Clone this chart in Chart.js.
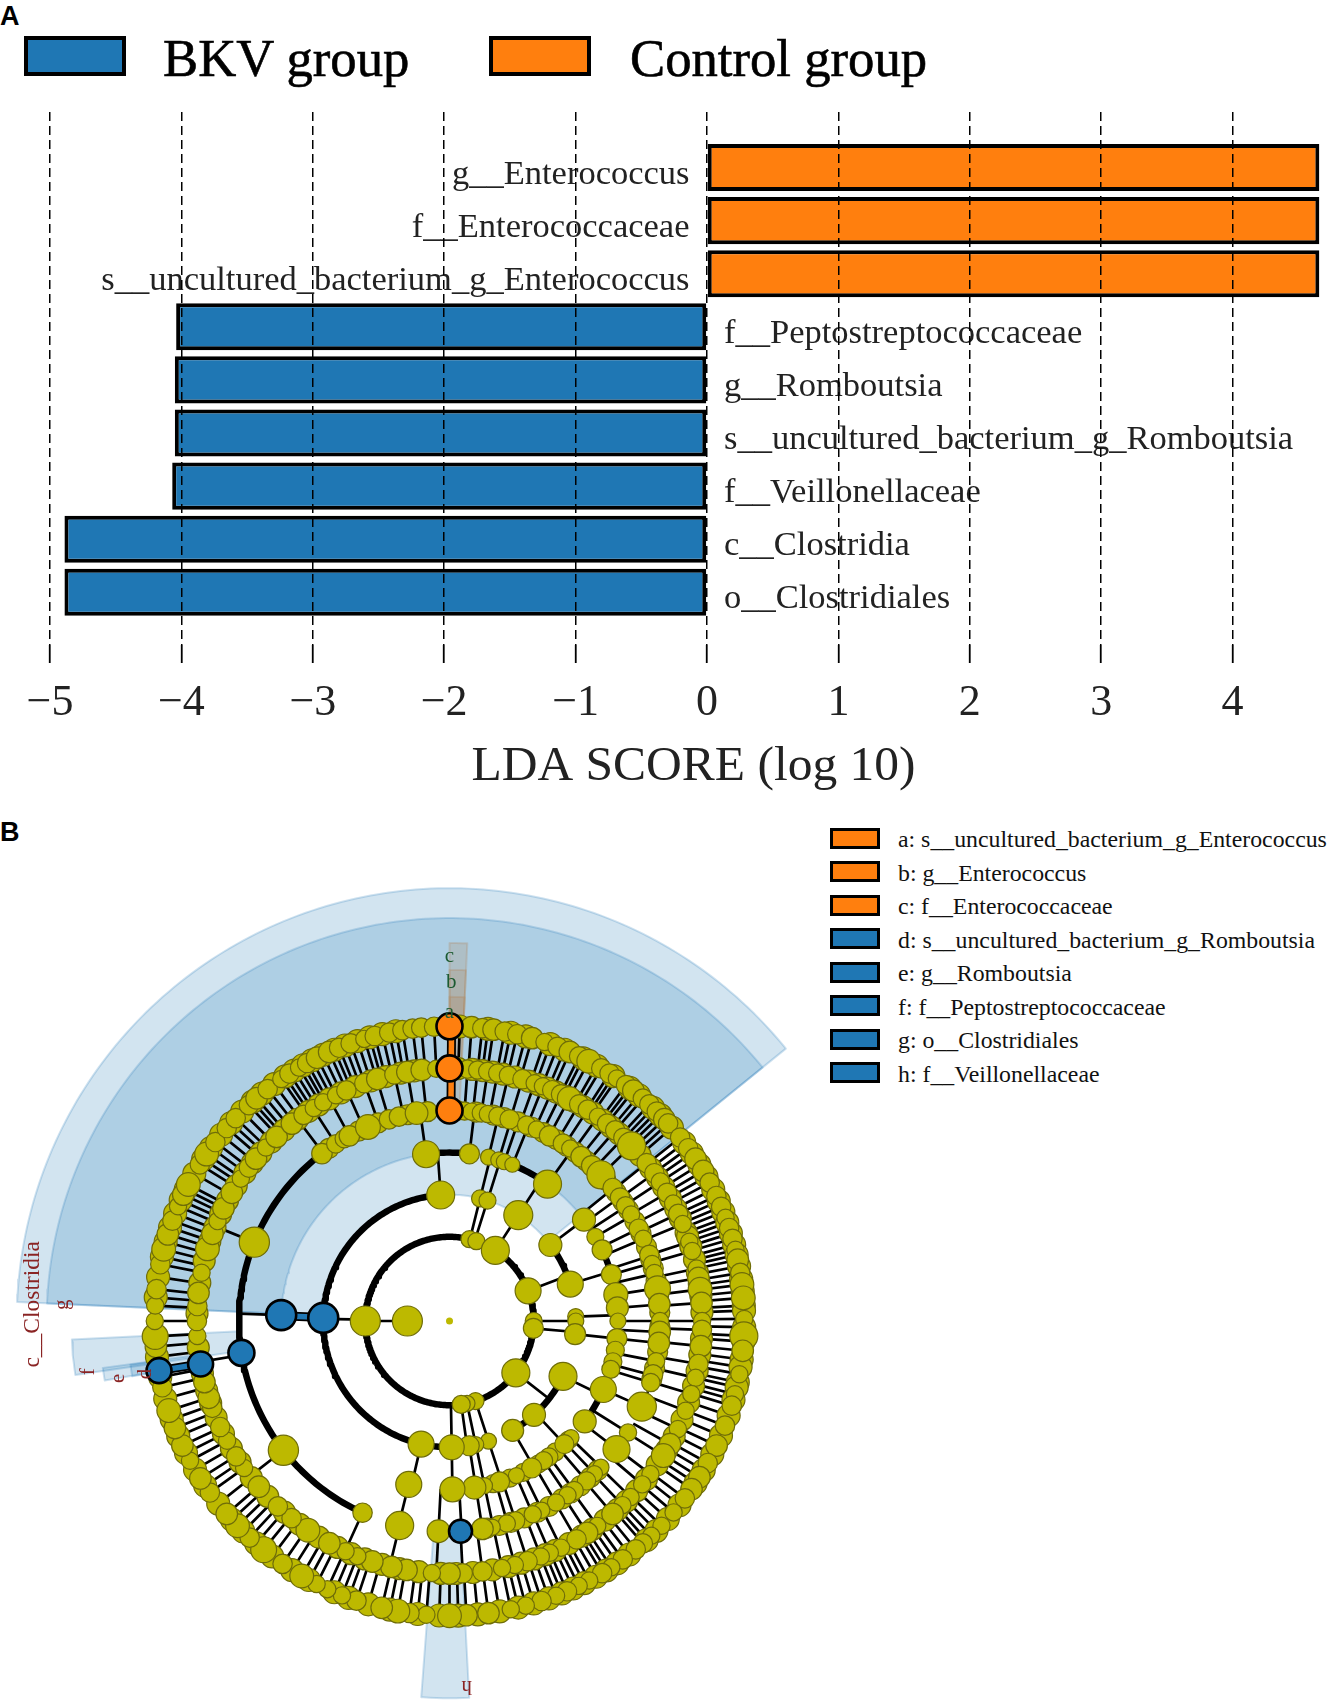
<!DOCTYPE html>
<html><head><meta charset="utf-8">
<script src="https://cdn.jsdelivr.net/npm/chart.js@4"></script>
<style>
html,body{margin:0;padding:0;background:#fff;width:1328px;height:1700px;overflow:hidden;position:relative}
.c{position:absolute;left:0}
.t{position:absolute;font-family:"Liberation Serif",serif;color:#111;white-space:pre;line-height:1}
.p{position:absolute;font:bold 27px "Liberation Sans",sans-serif;color:#000;line-height:1}
.s{position:absolute;box-sizing:border-box;border:solid #000}
</style></head><body>
<div class="p" style="left:0;top:3px">A</div>
<div class="p" style="left:0;top:819px">B</div>
<div id="legendA"></div><div id="legendB"></div>
<div class="c" style="top:0;width:1328px;height:800px;overflow:hidden"><canvas id="a"></canvas></div>
<div class="c" style="top:800px;width:1328px;height:900px"><canvas id="b"></canvas></div>
<script>
// ---------- Panel A data ----------
const categories=["g__Enterococcus","f__Enterococcaceae","s__uncultured_bacterium_g_Enterococcus","f__Peptostreptococcaceae","g__Romboutsia","s__uncultured_bacterium_g_Romboutsia","f__Veillonellaceae","c__Clostridia","o__Clostridiales"];
const ldaScores=[4.66,4.66,4.66,-4.04,-4.05,-4.05,-4.07,-4.89,-4.89];
const tickValues=[-5,-4,-3,-2,-1,0,1,2,3,4];
const groupNames=["BKV group","Control group"];
const BLUE="#1f77b4",ORANGE="#ff7f0e",YEL="#bdb900",YELE="#6f6d08";
// ---------- Panel B legend ----------
const cladeLegend=[["a: s__uncultured_bacterium_g_Enterococcus",1],["b: g__Enterococcus",1],["c: f__Enterococcaceae",1],["d: s__uncultured_bacterium_g_Romboutsia",0],["e: g__Romboutsia",0],["f: f__Peptostreptococcaceae",0],["g: o__Clostridiales",0],["h: f__Veillonellaceae",0]];
// ---------- Panel B data: [angle in degrees clockwise from top, node size] per ring ----------
const ring1=[[-90,15]];
const ring2=[[-90,15],[13.7,8.5],[18.6,8.5],[33,14],[69,13],[90,8.5],[95,10],[128,14],[162,8.5],[168,8],[172,9]];
const ring3=[[-4,14],[14,8.5],[17.5,8.5],[33,14.5],[53,11.5],[73,13],[88,8],[90,8],[96,10.5],[116,14],[138,11.5],[150,11],[162,8],[168,8],[171,10],[179,12.5],[-167,13]];
const ring4=[[-8,13.5],[6.8,10],[13.4,8],[17,8],[19,8],[21.9,7.5],[35.6,14],[53,11.5],[60,8.5],[65,10],[74,10],[81,12],[85.5,11],[90,8],[96,10],[100,9],[104,9],[106.7,9],[114,13],[126.6,11.5],[133.8,8],[137,9.5],[143.8,9],[146,9],[150.8,10],[156.6,8],[162.7,10],[168,8],[171.5,11.5],[179,12.5],[-166,13]];
const ring5=[[4.1,8.5],[6,8],[8.7,8.5],[10.5,8],[13.3,8.5],[16.6,9],[21.5,8.5],[24.5,8],[28.4,9.5],[32.6,9],[35,8],[38.7,9.5],[42.5,9.5],[46,13],[50.8,9],[54.1,9],[56.8,8.5],[59.6,8],[64,9],[67,8],[71.7,9],[74.3,8],[76.8,8],[81.2,12],[85.4,10],[90,8],[93,10],[96,10],[101,8],[104.7,9],[107,8.5],[114,13.5],[122,8],[127.5,12.5],[134,7.5],[136.5,7.5],[139.4,8.5],[143.7,8.5],[145.9,8],[149.6,8],[154,7.5],[156.7,8],[161.7,8.5],[164.2,8],[168.3,7.5],[171,10],[-177,10.5],[-166.3,13],[-155.6,9],[-127.9,14],[-68,14],[-37.3,9.5],[-32.7,8.5],[-30,8.5],[-28.4,9.5],[-22.8,11.5],[-16.7,9],[-13.9,9],[-9,10.5]];
const ring6=[[4.1,8.5],[6.4,8.5],[8.7,8.5],[11,8.5],[13.5,8.5],[16.8,9],[19.7,8],[21.7,8],[24,9],[26.2,9],[28.3,11],[30.9,9],[33.2,9],[36,8],[38.6,9],[41,9],[43.5,9],[46.1,13],[51.3,9],[54.2,9],[56.6,8.5],[59.5,9],[62.3,8],[64.9,9],[67.4,8],[71.7,8],[73.9,8],[78,8],[80.2,10],[82.8,11],[85.9,10],[90,8],[92,9],[95.7,10],[99.8,9],[103,8],[106.8,8],[110.8,8],[115.3,8],[119.2,10],[122.2,11],[127.3,8],[130.3,8],[134.2,8],[136.8,8],[139.8,10],[144.2,8],[147,10],[149.8,9],[153.8,8],[156.6,8],[158.8,8],[162,9],[165,8],[168,8],[172.5,9],[177,9],[180,10],[-176,8],[-170.2,10],[-166.7,10],[-162.2,10],[-158.6,8],[-155.7,8],[-151.6,10],[-145.9,11],[-141.3,9],[-137.2,9],[-131,10],[-125.6,8],[-122.4,9],[-118.3,8],[-114.8,9],[-110.1,9],[-107.7,10],[-104,10],[-93.4,8],[-90,9],[-86.6,9],[-83.6,10],[-79,8],[-73.4,11],[-69.8,10],[-66.7,8],[-63.5,10],[-59.5,10],[-55.7,8],[-52.6,9],[-50,10],[-46.6,8],[-43.2,10],[-38.6,10],[-35.3,9],[-32.5,8],[-30,8],[-26.7,8],[-24.1,9],[-19.7,9],[-16.6,10],[-12.6,9],[-9.6,10],[-6.3,10],[-3,8]];
const ring7=[[4.3,10],[6.4,9],[8.6,10],[10.8,9],[13.3,9],[16.3,10],[18.8,8],[21.5,9],[24.1,10],[26.1,9],[28.2,11],[31,9],[32.9,9],[34.6,8],[36.8,9],[38.6,10],[41,9],[42.7,9],[44.7,9],[46.8,10],[47.9,9],[51.5,9],[54.1,9],[56.6,10],[59.4,10],[62,9],[64.9,9],[67.2,9],[69.5,8],[71.6,9],[73.8,9],[76,8],[78,10],[80.6,9],[82.9,11],[85.5,11],[89.6,8],[92.9,13],[95.8,10],[100.4,8],[104.4,8],[106.7,9],[110.8,9],[115,10],[118.8,9],[122,10],[124.8,10],[127,9],[130.5,8],[134,8],[136.8,8],[139,9],[140.8,9],[144,9],[146.7,8],[148.8,9],[151.7,8],[154,8],[156.5,9],[158.8,8],[161.8,9],[165,8],[168,8],[172.4,10],[176.7,10],[180,11],[-175.5,8],[-172.2,9],[-169.9,11],[-166.7,10],[-161.6,9],[-158.6,8],[-155.5,8],[-153.2,8],[-149.9,11],[-145.5,9],[-140.9,12],[-137.3,9],[-134,11],[-130.9,10],[-125.6,9],[-122.3,10],[-118.3,8],[-115,10],[-111.3,10],[-107.7,11],[-103,9],[-95,10],[-93,12],[-90,8],[-87,8],[-83.8,9],[-78.9,9],[-75.9,11],[-72.9,10],[-70.1,9],[-67.1,8],[-64.6,10],[-62.4,11],[-57.9,9],[-55.5,11],[-52.6,9],[-49.1,9],[-46.5,9],[-42.9,9],[-40.9,10],[-38.1,9],[-34.8,8],[-32.9,9],[-30.7,8],[-28.9,9],[-26.7,10],[-24.1,10],[-22,9],[-19.6,9],[-16.8,8],[-14.7,9],[-11.8,9],[-9.2,9],[-7.2,9],[-5.5,9],[-3,9]];
// nodes half hidden behind the ones above (angles only)
const ring4Behind=[135,141,148,154,159,165];
const ring5Behind=[2,7.3,12,15,19,23,26.5,30.5,34,36.8,40.6,44,48,52.4,55.5,58.2,61.8,65.5,69.4,73,75.5,79,83.3,87.7,91.5,94.5,98.5,103,105.9,135.2,138,141.5,144.8,147.7,151.8,155.3,159.2,163,166.3,169.7,-34.9,-25.6,-19.8,-11.5,-6];
const ring6Behind=[2,5.2,7.5,9.8,12.2,15,18.2,20.7,22.8,25,27.2,29.6,32,34.6,37.3,39.8,42.2,44.8,49,52.8,55.4,58,61,63.6,66,69.5,70.5,72.8,75.9,79,81.5,84.3,88,94,97.7,101.4,104.9,108.8,113,117.2,120.7,124.7,128.8,132.2,135.5,138.3,142,145.6,148.4,151.8,155.2,157.7,160.4,163.5,166.5,170.2,174.7,178.5,-178,-173,-168.5,-164.5,-160.4,-157.1,-153.7,-148.8,-143.6,-139.2,-134,-128.3,-124,-120.3,-116.5,-112.5,-109,-106,-102,-96,-88.3,-81.3,-76.2,-71.6,-68.2,-65,-61.5,-57.6,-54.1,-51.3,-48.3,-44.9,-40.9,-37,-33.9,-31.2,-28.4,-25.4,-21.9,-18.1,-14.6,-11.1,-8];
const ring7Behind=[2,7.5,12,15,20,23,27,30,33.8,37.7,40,43.7,45.7,49,52.8,55.3,58,60.7,63.5,66,68.3,70.5,72.7,75,77,79.3,81.8,84.2,87,88,91.2,94,97.5,99,102,103,105.5,108.7,112.9,116.9,120.4,123.4,128.7,132.2,135.4,138,142.4,145.3,147.8,150.2,152.8,155.2,157.6,160.3,163.4,166.5,170.2,174.5,178.3,-178,-173.8,-168.3,-164,-160,-157,-151.5,-147.7,-143,-139,-135.6,-132.4,-128.3,-124,-120.3,-116.6,-113,-109.5,-105.3,-101,-97,-85.4,-81.4,-77.4,-74.4,-71.5,-68.6,-65.8,-63.5,-60,-56.7,-54,-50.8,-47.8,-44.7,-41.9,-39.5,-36.5,-33.9,-31.8,-29.8,-27.8,-25.4,-23,-20.8,-18.2,-15.7,-13.2,-10.5];
// highlighted nodes: [ring, angle, size, group]
const markedNodes=[[3,-88.6,15,0],[4,-88,15,0],[5,-98.7,13,0],[6,-99.8,12.5,0],[7,-99.7,12.5,0],[5,177,11.5,0],[5,0,13,1],[6,0,13,1],[7,0,13,1]];
// radial branches between ring n-1 and ring n
const stems2=[-90];
const stems3=[-89,14,17.5,33,69,90,95,128,162,168,172,179];
const stems4=[-88,-4,14,17.5,33,53,73,88,96,116,137,150,162,168,171,179,-167];
const stems5=[-88,-8,6.8,13.4,17,19,22,35.6,51,54,57,60,64,67,72,74,77,81,85.5,90,93,96,101,105,107,114,122,127.5,134,136.5,139.4,143.7,146,149.6,154,156.7,161.7,164,168,171,176.7,-177,-166];
const stems6=[-68,-127.9,-155.6,-166.3,-177,-99.3,-37,-32.7,-28.4,-24,-19.7,-16.7,-12.6,-9.6,-6.3,4.1,6.4,8.7,11,13.5,16.8,19.7,21.7,24,26.2,28.3,30.9,33.2,36,38.6,41,43.5,46.1,51.3,54.2,56.6,59.5,62.3,64.9,67.4,71.7,73.9,78,80.2,82.8,85.9,90,92,95.7,99.8,103,106.8,110.8,115.3,119.2,122.2,127.3,130.3,134.2,136.8,139.8,144.2,147,149.8,153.8,156.6,158.8,162,165,168,172.5,177];
// arcs: [ring, from, to]
const thickArcs=[[2,-180,180],[3,-193,-4],[5,-155.6,-37.3],[4,-8,6.8],[4,21.9,35.6],[3,53,73],[3,116,150],[4,65,74],[4,114,126.6]];
const thinArcs=[[4,51,107],[4,134,179],[5,4,46],[5,50,114],[5,134,177],[6,4,46],[6,51,177]];
// shaded clades: [inner ring, outer ring, from, to, group]
const cladeWedges=[[3,10.28,-87.5,51,0],[4,9.57,-87.5,51,0],[5,8.98,-98.2,-92.8,0],[6,8.31,-99.8,-97.7,0],[7,7.65,-99.9,-97.8,0],[5,8.96,177,184.3,0],[5,8.98,0,2.7,1],[6,8.34,0,2.7,1],[7,7.7,0,2.7,1]];
// clade letters: [text, ring position, angle, rotation, group, size]
const cladeLetters=[["c__Clostridia",9.9,-87.7,-90,0,23.5],["g",9.21,-87.6,-90,0,21],["f",8.67,-98,-90,0,21],["e",7.99,-99.8,-90,0,21],["d",7.32,-99.9,-90,0,21],["h",8.7,177.3,180,0,21],["c",8.65,0,0,1,21],["b",8.03,.3,0,1,21],["a",7.32,0,0,1,21]];

// ---------- HTML legends ----------
function add(parent,cls,style,text){const d=document.createElement('div');d.className=cls;d.style.cssText=style;if(text)d.textContent=text;parent.appendChild(d);}
const la=document.getElementById('legendA');
[[24,BLUE,163],[489,ORANGE,630]].forEach((g,i)=>{
 add(la,'s',`left:${g[0]}px;top:36px;width:102px;height:40px;border-width:4px;background:${g[1]}`);
 add(la,'t',`left:${g[2]}px;top:32px;font-size:52.7px;color:#000;-webkit-text-stroke:.6px #000`,groupNames[i]);
});
const lb=document.getElementById('legendB');
cladeLegend.forEach((g,i)=>{
 const y=838.3+33.5*i;
 add(lb,'s',`left:830px;top:${y-10.5}px;width:50px;height:21px;border-width:3px;background:${g[1]?ORANGE:BLUE}`);
 add(lb,'t',`left:898px;top:${y-10}px;font-size:23.8px`,g[0]);
});

// ---------- Panel A ----------
const X0=707,UX=131.4,Y0=167.5,UY=53.1,TOP=112,BOT=645,WA=1387;
const barLabels={id:'barLabels',afterDatasetsDraw(c){
 const ctx=c.ctx,x=c.scales.x,y=c.scales.y;ctx.save();ctx.font='34.5px "Liberation Serif"';ctx.fillStyle='#222';ctx.textBaseline='middle';
 categories.forEach((t,i)=>{const pos=ldaScores[i]>0;ctx.textAlign=pos?'right':'left';
  ctx.fillText(t,x.getPixelForValue(0)+(pos?-17.5:17),y.getPixelForValue(i)+7);});
 ctx.restore();}};
document.getElementById('a').style.cssText=`width:${WA}px;height:800px;display:block`;
new Chart(document.getElementById('a'),{type:'bar',
 data:{datasets:[{data:categories.map((c,i)=>({x:ldaScores[i],y:i})),
  backgroundColor:ldaScores.map(v=>v>0?ORANGE:BLUE),borderColor:'#000',borderWidth:4,borderSkipped:false,
  categoryPercentage:1,barPercentage:47.5/53.1}]},
 options:{indexAxis:'y',responsive:false,animation:false,events:[],
  layout:{padding:{top:TOP,left:0,right:0,bottom:0},autoPadding:false},
  plugins:{legend:{display:false},tooltip:{enabled:false}},
  scales:{
   y:{type:'linear',display:false,reverse:true,offset:false,min:(TOP-Y0)/UY,max:(BOT-Y0)/UY},
   x:{type:'linear',min:-X0/UX,max:(WA-X0)/UX,position:'bottom',
    afterBuildTicks(s){s.ticks=tickValues.map(v=>({value:v}));},
    afterFit(s){s.height=800-BOT;},
    grid:{color:'#000',lineWidth:1.5,z:1,tickLength:18,tickColor:'#000',tickWidth:1.8,tickBorderDash:[]},
    border:{display:false,dash:[9,5]},
    ticks:{font:{family:'Liberation Serif',size:44},color:'#222',padding:14,maxRotation:0,autoSkip:false,
     callback:v=>String(v).replace('-','\u2212')},
    title:{display:true,text:'LDA SCORE (log 10)',font:{family:'Liberation Serif',size:49.5},color:'#222',padding:{top:20,bottom:3}}
   }}},
 plugins:[barLabels]});

// ---------- Panel B ----------
const CX=449.5,CY=1321,U=42.1,TB=800,HB=900;
const polar=(lv,deg)=>{const a=deg*Math.PI/180;return{x:lv*Math.sin(a),y:lv*Math.cos(a)};};
const GAP={x:NaN,y:NaN};
const radial=(list,lv)=>list.flatMap(a=>[polar(lv-1,a),polar(lv,a),GAP]);
const arcPts=(lv,a0,a1)=>{const p=[];for(let a=a0;a<a1;a+=1)p.push(polar(lv,a));p.push(polar(lv,a1));return p;};
const arcs=l=>l.flatMap(r=>[...arcPts(r[0],r[1],r[2]),GAP]);
const base={showLine:true,pointRadius:0,pointHoverRadius:0,fill:false,tension:0,clip:false,borderJoinStyle:'round'};
const ds=[];
cladeWedges.forEach(w=>{
 const col=w[4]?'255,127,14':'31,119,180';
 ds.push({...base,order:50,data:[...arcPts(w[0],w[2],w[3]),...arcPts(w[1],w[2],w[3]).reverse(),polar(w[0],w[2])],
  fill:'shape',backgroundColor:`rgba(${col},.2)`,borderColor:`rgba(${col},.22)`,borderWidth:2});
});
ds.push({...base,order:40,borderColor:'#000',borderWidth:2.7,data:[...radial(stems2,2),...radial(stems3,3),...radial(stems4,4),...radial(stems5,5),...radial(stems6,6),...radial(ring7.map(n=>n[0]),7),...radial(ring7Behind,7)]});
ds.push({...base,order:39,borderColor:'#000',borderWidth:2.5,data:arcs(thinArcs)});
ds.push({...base,order:38,borderColor:'#000',borderWidth:6.5,data:arcs(thickArcs)});
// coloured branches of the highlighted clades
ds.push({...base,order:37,borderColor:'#000',borderWidth:9,data:[polar(3,-88.4),polar(4,-88.2),GAP,polar(6,-99.8),polar(7,-99.7),GAP,polar(5,0.4),polar(7,0.4)]});
ds.push({...base,order:36,borderColor:BLUE,borderWidth:5.5,data:[polar(3,-88.4),polar(4,-88.2),GAP,polar(6,-99.8),polar(7,-99.7)]});
ds.push({...base,order:36,borderColor:ORANGE,borderWidth:5.5,data:[polar(5,0.4),polar(7,0.4)]});
// nodes behind, then nodes on top
const nodeStyle={pointBackgroundColor:YEL,pointBorderColor:YELE,pointBorderWidth:1.2,clip:false};
[[ring4Behind,4,9],[ring5Behind,5,10],[ring6Behind,6,11],[ring7Behind,7,11.5]].forEach(b=>{
 ds.push({type:'scatter',order:35-b[1]/10,data:b[0].map(a=>polar(b[1],a)),pointRadius:b[2],...nodeStyle});
});
const rings=[ring1,ring2,ring3,ring4,ring5,ring6,ring7];
rings.forEach((nodes,i)=>{
 const k=i>=4?1.08:1;
 ds.push({type:'scatter',order:30-i,data:nodes.map(n=>polar(i+1,n[0])),pointRadius:nodes.map(n=>n[1]*k),...nodeStyle});
});
ds.push({type:'scatter',order:22,data:[polar(0,0)],pointRadius:3.5,pointBackgroundColor:YEL,pointBorderColor:YEL,pointBorderWidth:0});
ds.push({type:'scatter',order:5,data:markedNodes.map(n=>polar(n[0],n[1])),pointRadius:markedNodes.map(n=>n[2]),
 pointBackgroundColor:markedNodes.map(n=>n[3]?ORANGE:BLUE),pointBorderColor:'#000',pointBorderWidth:2.6,clip:false});
const letters={id:'letters',afterDatasetsDraw(c){
 const ctx=c.ctx,x=c.scales.x,y=c.scales.y;
 cladeLetters.forEach(l=>{const p=polar(l[1],l[2]);ctx.save();
  ctx.translate(x.getPixelForValue(p.x),y.getPixelForValue(p.y));ctx.rotate(l[3]*Math.PI/180);
  ctx.font=l[5]+'px "Liberation Serif"';ctx.textAlign='center';ctx.textBaseline='middle';
  ctx.fillStyle=l[4]?'#1c5a30':'#8a2424';ctx.fillText(l[0],0,0);ctx.restore();});
}};
document.getElementById('b').style.cssText=`width:1328px;height:${HB}px;display:block`;
new Chart(document.getElementById('b'),{type:'scatter',data:{datasets:ds},
 options:{responsive:false,animation:false,events:[],spanGaps:false,
  layout:{padding:0,autoPadding:false},plugins:{legend:{display:false},tooltip:{enabled:false}},
  scales:{x:{type:'linear',display:false,min:-CX/U,max:(1328-CX)/U},
          y:{type:'linear',display:false,min:-(TB+HB-CY)/U,max:(CY-TB)/U}}},
 plugins:[letters]});
</script></body></html>
